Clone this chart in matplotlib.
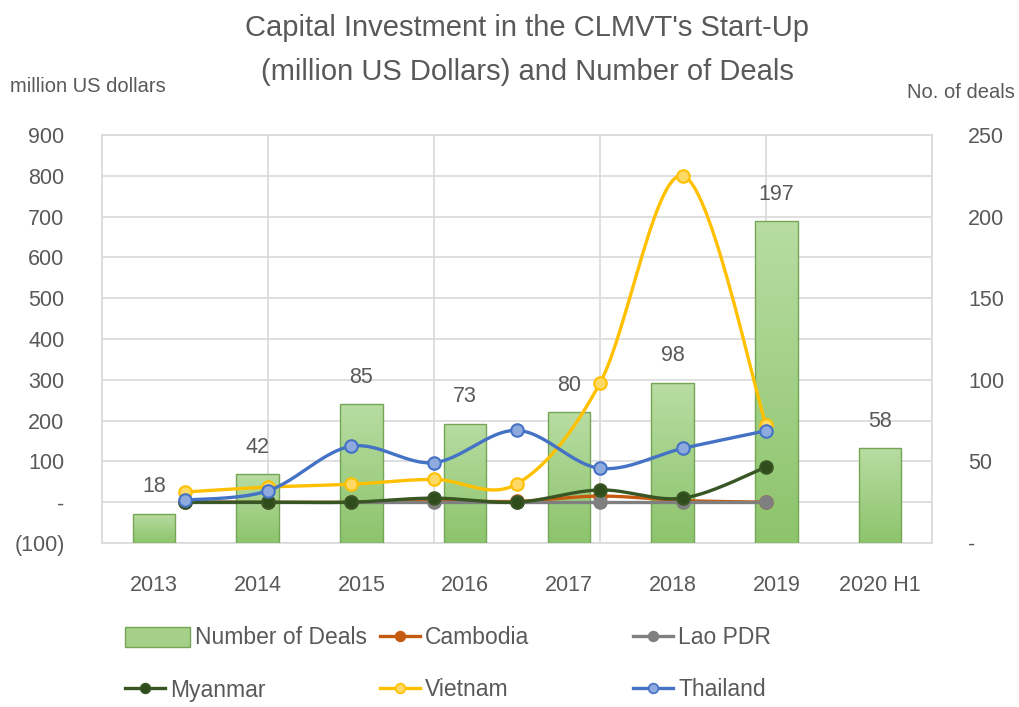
import numpy as np
import matplotlib
matplotlib.use("Agg")
import matplotlib.pyplot as plt
from matplotlib.lines import Line2D
from matplotlib.patches import Patch
from matplotlib.colors import LinearSegmentedColormap

plt.rcParams['font.family'] = ['Liberation Sans', 'DejaVu Sans']

# ---------------- data ----------------
categories = ['2013', '2014', '2015', '2016', '2017', '2018', '2019', '2020 H1']
deals = [18, 42, 85, 73, 80, 98, 197, 58]

# investment series (million US dollars), 8 points each
cambodia = [0, 0, 0, 4, 2, 15, 4, 0]
lao = [0, 0, 0, 0, 0, 0, 0, 0]
myanmar = [0, 0, 0, 10, 0, 30, 10, 86]
vietnam = [25, 37, 44, 56, 45, 292, 800, 190]
thailand = [5, 28, 137, 97, 176, 83, 132, 175]

left_ticks = [-100, 0, 100, 200, 300, 400, 500, 600, 700, 800, 900]
left_labels = ['(100)', '-', '100', '200', '300', '400', '500', '600', '700', '800', '900']
right_ticks = [0, 50, 100, 150, 200, 250]
right_labels = ['-', '50', '100', '150', '200', '250']

TXT = '#595959'
GRID = '#d9d9d9'

W, H = 1019, 707
fig = plt.figure(figsize=(W / 100, H / 100), dpi=100)
rect = [102 / W, 1 - 543 / H, (932 - 102) / W, (543 - 135) / H]

# grid / left axis
axg = fig.add_axes(rect)
axg.set_xlim(0, 10)
axg.set_ylim(-100, 900)
axg.set_xticks([0, 2, 4, 6, 8, 10])
axg.set_xticklabels([])
axg.set_yticks(left_ticks)
axg.set_yticklabels(left_labels)
axg.grid(True, color=GRID, lw=1.2)
axg.tick_params(axis='both', length=0)
axg.tick_params(axis='y', labelsize=15.5, labelcolor=TXT, pad=27)
for s in axg.spines.values():
    s.set_color(GRID)
    s.set_linewidth(1.2)

# bars / right axis
axb = fig.add_axes(rect, label='bars')
axb.patch.set_alpha(0)
xb = np.arange(len(categories))
bars = axb.bar(xb, deals, width=0.41, color='#a6d08a', edgecolor='#74a655', linewidth=1.0)
cmap = LinearSegmentedColormap.from_list('g', ['#b8dca2', '#8dc46c'])
grad = np.linspace(0, 1, 100).reshape(-1, 1)
for b in bars:
    x0, y0 = b.get_x(), b.get_y()
    im = axb.imshow(grad, cmap=cmap, aspect='auto', origin='upper',
                    extent=[x0, x0 + b.get_width(), y0, y0 + b.get_height()], zorder=1)
    im.set_clip_path(b)
    b.set_facecolor('none')
    b.set_zorder(2)
axb.set_xlim(-0.5, len(categories) - 0.5)
axb.set_ylim(0, 250)
for xi, v in zip(xb, deals):
    axb.annotate(str(v), (xi, v), xytext=(0, 12), textcoords='offset points',
                 ha='center', va='bottom', fontsize=15.5, color=TXT)
axb.yaxis.tick_right()
axb.set_yticks(right_ticks)
axb.set_yticklabels(right_labels)
axb.set_xticks(xb)
axb.set_xticklabels(categories)
axb.tick_params(axis='both', length=0, labelsize=15.5, labelcolor=TXT)
axb.tick_params(axis='y', pad=26)
axb.tick_params(axis='x', pad=23)
for lab in axb.get_yticklabels():
    lab.set_ha('left')
for s in axb.spines.values():
    s.set_visible(False)

# lines
axl = fig.add_axes(rect, label='lines')
axl.patch.set_alpha(0)
axl.set_xlim(0, 10)
axl.set_ylim(-100, 900)
axl.set_xticks([])
axl.set_yticks([])
for s in axl.spines.values():
    s.set_visible(False)

xl = np.arange(1, len(thailand) + 1, dtype=float)


def smooth(x, y, n=30):
    P = np.column_stack([x, y]).astype(float)
    out = []
    m = len(P)
    for i in range(m - 1):
        p0 = P[i - 1] if i > 0 else P[i]
        p3 = P[i + 2] if i + 2 < m else P[i + 1]
        c1 = P[i] + (P[i + 1] - p0) / 6
        c2 = P[i + 1] - (p3 - P[i]) / 6
        t = np.linspace(0, 1, n)[:, None]
        seg = ((1 - t) ** 3) * P[i] + 3 * ((1 - t) ** 2) * t * c1 + 3 * (1 - t) * t ** 2 * c2 + t ** 3 * P[i + 1]
        out.append(seg if i == 0 else seg[1:])
    s = np.vstack(out)
    return s[:, 0], s[:, 1]


series = [
    ('Cambodia', cambodia, '#c55a11', '#c55a11'),
    ('Lao PDR', lao, '#7f7f7f', '#7f7f7f'),
    ('Myanmar', myanmar, '#375623', '#2f4d1c'),
    ('Vietnam', vietnam, '#ffc000', '#ffd966'),
    ('Thailand', thailand, '#4472c4', '#8faadc'),
]
handles = {}
for i, (name, vals, col, face) in enumerate(series):
    sx, sy = smooth(xl, vals)
    axl.plot(sx, sy, color=col, lw=2.4, zorder=3 + i, solid_capstyle='round')
    axl.plot(xl, vals, ls='none', marker='o', ms=9, mfc=face, mec=col, mew=1.5, zorder=3 + i)
    handles[name] = Line2D([], [], color=col, lw=2.4, marker='o', ms=7, mfc=face, mec=col, mew=1.2)

handles['Number of Deals'] = Patch(facecolor='#a6d08a', edgecolor='#74a655')

# legend (individual entries on a grid)
leg_pos = [
    ('Number of Deals', 125, 638, 2.85, 0.95),
    ('Cambodia', 380, 638, 1.75, 0.8),
    ('Lao PDR', 633, 638, 1.75, 0.8),
    ('Myanmar', 125, 690, 1.75, 0.8),
    ('Vietnam', 380, 690, 1.75, 0.8),
    ('Thailand', 633, 690, 1.75, 0.8),
]
for name, x, y, hl, hh in leg_pos:
    fig.legend([handles[name]], [name], loc='center left',
               bbox_to_anchor=(x / W, 1 - y / H), frameon=False,
               handlelength=hl, handleheight=hh, handletextpad=0.22,
               borderpad=0, borderaxespad=0, fontsize=16.5, labelcolor=TXT)

# titles
fig.text(527 / W, 1 - 28 / H, "Capital Investment in the CLMVT's Start-Up", ha='center', va='center',
         fontsize=21, color=TXT)
fig.text(527 / W, 1 - 72 / H, "(million US Dollars) and Number of Deals", ha='center', va='center',
         fontsize=21, color=TXT)
fig.text(10 / W, 1 - 87 / H, 'million US dollars', ha='left', va='center', fontsize=14.5, color=TXT)
fig.text(1015 / W, 1 - 92 / H, 'No. of deals', ha='right', va='center', fontsize=14.5, color=TXT)

fig.savefig('out.png', dpi=100, facecolor='white')
